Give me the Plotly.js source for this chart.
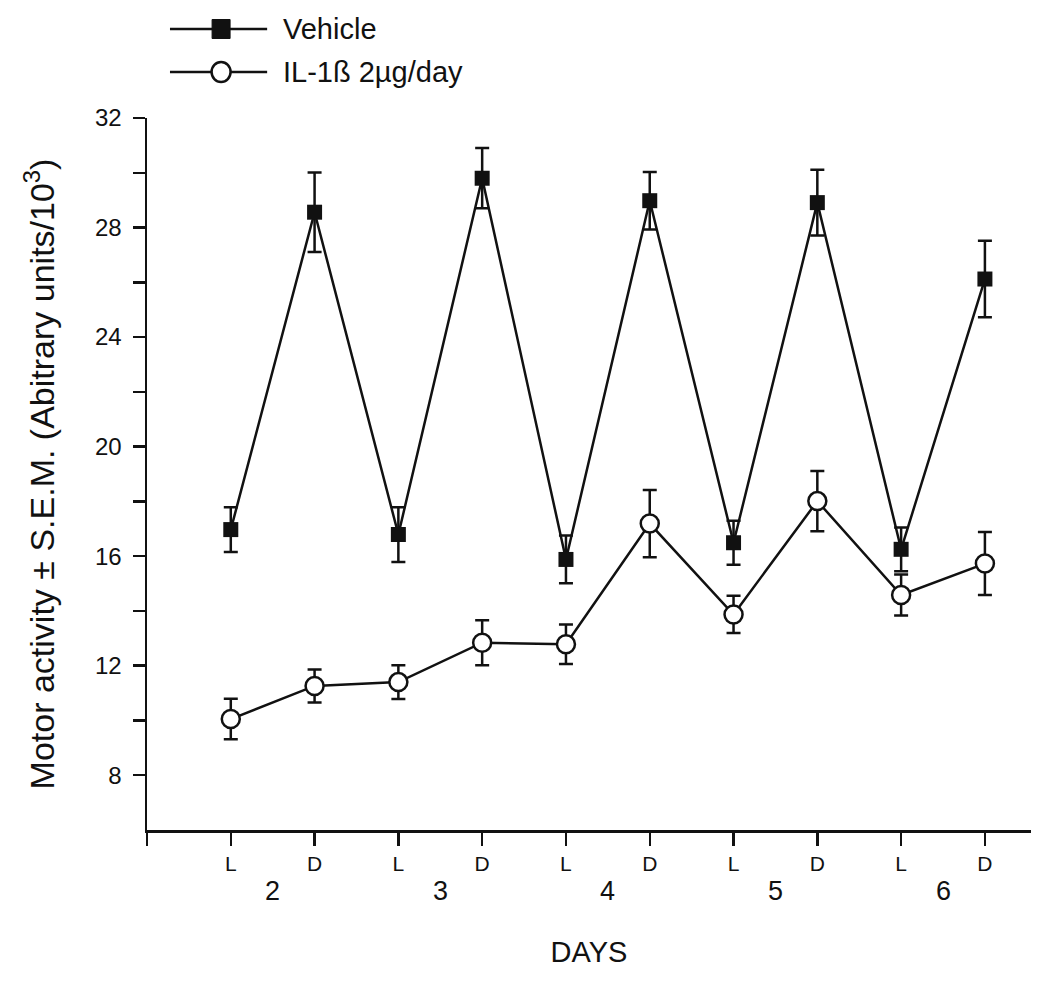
<!DOCTYPE html>
<html>
<head>
<meta charset="utf-8">
<script src="https://cdn.plot.ly/plotly-3.0.1.min.js"></script>
<style>html,body{margin:0;padding:0;background:#fff;}#chart{width:1050px;height:982px;}</style>
</head>
<body>
<div id="chart"></div>
<script>
// ---- data ----
const phaseLabels = ['L','D','L','D','L','D','L','D','L','D'];
const dayLabels = ['2','3','4','5','6'];
const seriesNames = ['Vehicle', 'IL-1ß 2µg/day'];
const vehicleMean = [16.97, 28.56, 16.79, 29.80, 15.88, 28.98, 16.49, 28.91, 16.25, 26.12];
const vehicleSem  = [0.82, 1.45, 1.00, 1.10, 0.87, 1.05, 0.80, 1.20, 0.80, 1.40];
const il1bMean    = [10.05, 11.26, 11.40, 12.84, 12.78, 17.19, 13.87, 18.01, 14.58, 15.73];
const il1bSem     = [0.74, 0.60, 0.62, 0.82, 0.72, 1.23, 0.68, 1.10, 0.75, 1.15];
const yMajorTicks = [8, 12, 16, 20, 24, 28, 32];
const yMinorTicks = [10, 14, 18, 22, 26, 30];

const xIdx = phaseLabels.map((_, i) => i);
const ink = '#111';
const font = 'Liberation Sans, Arial, sans-serif';
const narrow = 'Liberation Sans Narrow, Arial Narrow, Liberation Sans, Arial, sans-serif';

const traces = [
  {
    x: xIdx, y: vehicleMean, name: seriesNames[0], type: 'scatter', mode: 'lines+markers',
    line: {color: ink, width: 2.5},
    marker: {symbol: 'square', size: 15, color: ink},
    error_y: {type: 'data', array: vehicleSem, visible: true, color: ink, thickness: 2.5, width: 7},
    showlegend: false
  },
  {
    x: xIdx, y: il1bMean, name: seriesNames[1], type: 'scatter', mode: 'lines+markers',
    line: {color: ink, width: 2.5},
    marker: {symbol: 'circle', size: 18, color: '#fff', line: {color: ink, width: 2.5}},
    error_y: {type: 'data', array: il1bSem, visible: true, color: ink, thickness: 2.5, width: 7},
    showlegend: false
  }
];

// day labels centred between each L/D pair
const annotations = dayLabels.map((d, i) => ({
  x: 2 * i + 0.5, xref: 'x', y: -0.086, yref: 'paper',
  text: d, showarrow: false, xanchor: 'center', yanchor: 'middle',
  font: {family: narrow, size: 27, color: ink}
}));

// custom legend (long sample lines as in the original)
const legY = [1.125, 1.0646];
const legX0 = 0.026, legX1 = 0.1359, legXm = 0.0838, legXt = 0.152;
const shapes = [];
seriesNames.forEach((nm, i) => {
  shapes.push({type: 'line', xref: 'paper', yref: 'paper', x0: legX0, x1: legX1, y0: legY[i], y1: legY[i],
    line: {color: ink, width: 2.5}});
  annotations.push({x: legXt, xref: 'paper', y: legY[i], yref: 'paper', text: nm, showarrow: false,
    xanchor: 'left', yanchor: 'middle', font: {family: font, size: 29, color: ink}});
});
shapes.push({type: 'rect', xref: 'paper', yref: 'paper', xsizemode: 'pixel', ysizemode: 'pixel',
  xanchor: legXm, yanchor: legY[0], x0: -9, x1: 9, y0: -9.5, y1: 9.5,
  fillcolor: ink, line: {color: ink, width: 1}});
shapes.push({type: 'circle', xref: 'paper', yref: 'paper', xsizemode: 'pixel', ysizemode: 'pixel',
  xanchor: legXm, yanchor: legY[1], x0: -9.5, x1: 9.5, y0: -10, y1: 10,
  fillcolor: '#fff', line: {color: ink, width: 2.5}});

const layout = {
  width: 1050, height: 982,
  margin: {l: 147, r: 19, t: 118, b: 152},
  paper_bgcolor: '#fff', plot_bgcolor: '#fff',
  showlegend: false,
  xaxis: {
    range: [-1, 9.55], showgrid: false, zeroline: false,
    showline: true, linecolor: ink, linewidth: 2.5,
    tickmode: 'array', tickvals: xIdx, ticktext: phaseLabels,
    ticks: 'outside', ticklen: 13, tickwidth: 2.5, tickcolor: ink,
    minor: {tickmode: 'array', tickvals: [-1], ticks: 'outside', ticklen: 13, tickwidth: 2.5, tickcolor: ink, showgrid: false},
    tickfont: {family: narrow, size: 21, color: ink},
    title: {text: 'DAYS', font: {family: narrow, size: 29, color: ink}, standoff: 68},
    automargin: false
  },
  yaxis: {
    range: [6, 32], showgrid: false, zeroline: false,
    showline: true, linecolor: ink, linewidth: 2.5,
    tickmode: 'array', tickvals: yMajorTicks,
    ticks: 'outside', ticklen: 12, tickwidth: 2.5, tickcolor: ink,
    ticklabelstandoff: 6,
    minor: {tickmode: 'array', tickvals: yMinorTicks, ticks: 'outside', ticklen: 12, tickwidth: 2.5, tickcolor: ink, showgrid: false},
    tickfont: {family: font, size: 24, color: ink},
    title: {text: 'Motor activity ± S.E.M. (Abitrary units/10<sup>3</sup>)',
            font: {family: font, size: 34, color: ink}, standoff: 30},
    automargin: false
  },
  annotations: annotations,
  shapes: shapes
};

Plotly.newPlot('chart', traces, layout, {displayModeBar: false, staticPlot: true});
</script>
</body>
</html>
